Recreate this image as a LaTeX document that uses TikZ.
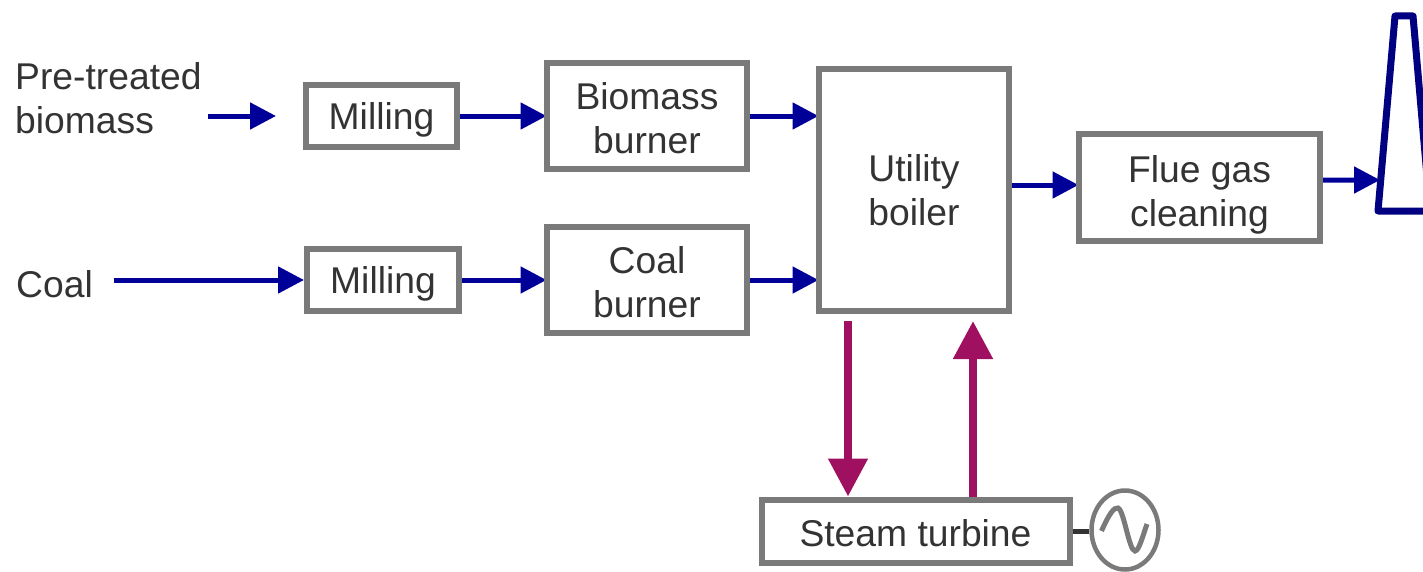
\documentclass[tikz,border=0pt]{standalone}
\usepackage{fontspec}
\setmainfont{Liberation Sans}
\usetikzlibrary{arrows.meta}
\usetikzlibrary{shapes.geometric}
\usetikzlibrary{backgrounds}
\definecolor{boxgray}{HTML}{7A7A7A}
\definecolor{textgray}{HTML}{333333}
\definecolor{flowblue}{HTML}{000099}
\definecolor{stackblue}{HTML}{000080}
\definecolor{steampurple}{HTML}{A01060}
\tikzset{
  label/.style={text=textgray, font=\fontsize{21.2}{25}\selectfont, align=center},
  box/.style={label, draw=boxgray, line width=1.2mm, fill=white, inner sep=0pt, text depth=0pt},
  lowbox/.style={box, execute at begin node={\rule{0pt}{#1}}},
  flow/.style={flowblue, line width=1mm, -{Triangle[length=5.2mm,width=5.2mm]}},
  innerflow/.style={flow, shorten >=-0.05cm},
  steamflow/.style={steampurple, line width=1.6mm, -{Triangle[length=7.6mm,width=7.6mm]}}
}
\begin{document}
\begin{tikzpicture}
\useasboundingbox (0,0) rectangle (28.46,11.42);

% nodes
{
\node[label, anchor=west, align=left] (biomass) at (0.18,9.46) {Pre-treated\\biomass};
\node[label, anchor=west] (coal) at (0.2,5.74) {Coal};

\node[box, minimum width=3.02cm, minimum height=1.24cm] (millingA) at (7.63,9.1) {Milling};
\node[box, minimum width=3.04cm, minimum height=1.24cm] (millingB) at (7.66,5.82) {Milling};

\node[lowbox=1.5cm, minimum width=4cm, minimum height=2.12cm] (biomassburner) at (12.94,9.1) {Biomass\\burner};
\node[lowbox=1.5cm, minimum width=4cm, minimum height=2.12cm] (coalburner) at (12.94,5.82) {Coal\\burner};

\node[box, minimum width=3.8cm, minimum height=4.84cm] (boiler) at (18.28,7.62) {Utility\\boiler};
\node[lowbox=1.54cm, minimum width=4.82cm, minimum height=2.14cm] (flue) at (23.99,7.67) {Flue gas\\cleaning};
\node[lowbox=0.6cm, minimum width=6.16cm, minimum height=1.26cm] (steam) at (18.31,0.8) {Steam turbine};

\node[ellipse, draw=boxgray, line width=0.9mm, inner sep=0pt, minimum width=1.34cm, minimum height=1.58cm] (generator) at (22.5,0.82) {};
}

% free ends
\coordinate (biomassfrom) at (4.16,9.1);
\coordinate (biomassto) at (5.52,9.1);
\coordinate (coalfrom) at (2.28,5.82);
\coordinate (stackin) at (27.6,7.82);
\coordinate (steamout) at (16.96,5);
\coordinate (steamin) at (19.46,5);

% blue lines
\draw[flow] (biomassfrom)--(biomassto);
\draw[flow] (coalfrom)--(millingB.west);
\begin{scope}[on background layer]
\draw[innerflow] (millingA.east)--(biomassburner.west);
\draw[innerflow] (millingB.east)--(coalburner.west);
\draw[innerflow] (biomassburner.east)--(boiler.west |- biomassburner.east);
\draw[innerflow] (coalburner.east)--(boiler.west |- coalburner.east);
\draw[innerflow] ([yshift=0.1cm]boiler.east)--([yshift=0.05cm]flue.west);
\end{scope}
\draw[flow] ([yshift=0.15cm]flue.east)--(stackin);

% stack
\draw[stackblue, line width=1.4mm, line join=round] (27.56,7.2)--(27.9,11.1)--(28.26,11.1)--(28.6,7.2)--cycle;

% steam lines
\draw[steamflow] (steamout)--(steam.north -| steamout);
\draw[steamflow] (steam.north -| steamin)--(steamin);

% generator
\draw[textgray, line width=1mm] (steam.east)--(generator.west |- steam.east);
\begin{scope}[shift={(generator.center)}]
\draw[boxgray, line width=1mm] (-0.47,-0.02) .. controls (-0.32,0.32) and (-0.22,0.46) .. (-0.14,0.44) .. controls (-0.02,0.4) and (0.08,-0.42) .. (0.2,-0.42) .. controls (0.28,-0.42) and (0.36,-0.1) .. (0.44,0.12);
\end{scope}

\end{tikzpicture}
\end{document}
